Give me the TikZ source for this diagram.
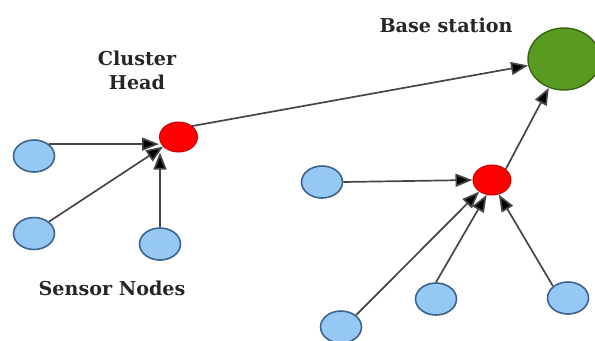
\documentclass[tikz,border=0pt]{standalone}
\usepackage{fontspec}
\setmainfont{DejaVu Serif}
\usetikzlibrary{shapes.geometric,arrows.meta}
\definecolor{sfill}{RGB}{150,200,245}
\definecolor{sdraw}{RGB}{60,100,140}
\definecolor{gfill}{RGB}{88,155,32}
\definecolor{gdraw}{RGB}{55,100,20}
\definecolor{lcol}{RGB}{70,70,70}
\tikzset{
  sensor/.style={ellipse,draw=sdraw,fill=sfill,line width=1.6bp,minimum width=41bp,minimum height=32bp,inner sep=0pt},
  chead/.style={ellipse,draw=red!80!black,fill=red,line width=1bp,minimum width=38bp,minimum height=30bp,inner sep=0pt},
  bstat/.style={ellipse,draw=gdraw,fill=gfill,line width=1.4bp,minimum width=72bp,minimum height=62bp,inner sep=0pt},
  arr/.style={draw=lcol,line width=1.7bp,-{Triangle[length=17bp,width=13bp,fill=black]}},
  lbl/.style={font=\bfseries\fontsize{19.2}{24}\selectfont,text=black!85,align=center,inner sep=0pt}
}
\begin{document}
\begin{tikzpicture}[x=1bp,y=-1bp]
\useasboundingbox (0,0) rectangle (595,340);
\begin{scope}
\clip (0,0) rectangle (595,340);
\node[bstat] (bs) at (564,59) {};
\end{scope}
\node[chead] (ch1) at (178.5,137) {};
\node[chead] (ch2) at (492,180) {};
\node[sensor] (s1) at (34,156) {};
\node[sensor] (s2) at (34,233.5) {};
\node[sensor] (s3) at (160,244) {};
\node[sensor] (s4) at (322,182) {};
\node[sensor] (s5) at (341,327) {};
\node[sensor] (s6) at (436,299) {};
\node[sensor] (s7) at (568,298) {};
\node[lbl] (tch) at (137,70) {Cluster\\Head};
\node[lbl] (tbs) at (446,25) {Base station};
\node[lbl] (tsn) at (112,288) {Sensor Nodes};
\draw[arr] (s1.north east) -- (s1.north east -| ch1.west);
\draw[arr] (s2.north east) -- (ch1.212);
\draw[arr] (s3.north) -- (s3.north |- ch1.south);
\draw[arr] (ch1.north east) -- (bs);
\draw[arr] (s4.east) -- (ch2.west);
\draw[arr] (s5.north east) -- (ch2.222);
\draw[arr] (s6.north) -- (ch2.250);
\draw[arr] (s7.north west) -- (ch2.295);
\draw[arr] (ch2.north east) -- (bs);
\end{tikzpicture}
\end{document}
